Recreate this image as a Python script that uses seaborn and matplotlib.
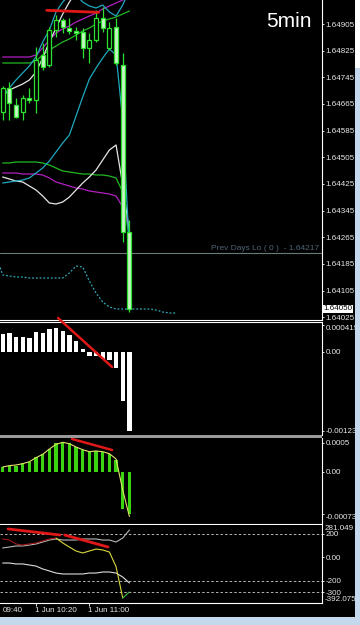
import numpy as np
import matplotlib
matplotlib.use("Agg")
import matplotlib.pyplot as plt
import matplotlib.transforms as mtransforms
from matplotlib.patches import Rectangle
import seaborn as sns

# ---------------- data ----------------
bar_idx = np.arange(20)
open_ = [1.64641, 1.64713, 1.64662, 1.64641, 1.64683, 1.64677, 1.64812, 1.64782, 1.64887, 1.64917,
         1.64893, 1.64884, 1.64881, 1.64833, 1.64857, 1.64923, 1.64833, 1.64896, 1.64782, 1.64281]
high = [1.64719, 1.64731, 1.64683, 1.64692, 1.64713, 1.64836, 1.64848, 1.64896, 1.64932, 1.64923,
        1.64923, 1.64896, 1.64893, 1.64878, 1.64947, 1.64956, 1.64911, 1.64923, 1.64818, 1.64317]
low = [1.64617, 1.64617, 1.64623, 1.64617, 1.64668, 1.64638, 1.64767, 1.64776, 1.64866, 1.64878,
       1.64875, 1.64857, 1.64803, 1.64788, 1.64851, 1.64881, 1.64827, 1.64782, 1.64251, 1.64041]
close = [1.64713, 1.64668, 1.64626, 1.64683, 1.64677, 1.64797, 1.64776, 1.64887, 1.64917, 1.64896,
         1.64884, 1.64878, 1.64833, 1.64857, 1.64923, 1.64893, 1.64893, 1.64788, 1.64281, 1.64050]

white_up = [1.64689, 1.64707, 1.64716, 1.64725, 1.64737, 1.64761, 1.64803, 1.64851, 1.64893, 1.64935,
            1.64971, 1.65001, 1.65019, 1.65025, 1.65019, 1.65007, 1.65001, 1.65007, 1.65001, 1.64992]
white_lo = [1.64446, 1.64440, 1.64434, 1.64431, 1.64419, 1.64407, 1.64389, 1.64368, 1.64365, 1.64371,
            1.64386, 1.64407, 1.64428, 1.64446, 1.64467, 1.64497, 1.64527, 1.64542, 1.64422, 1.64281]
cyan_up = [1.64686, 1.64713, 1.64737, 1.64758, 1.64779, 1.64806, 1.64851, 1.64887, 1.64941, 1.64971,
           1.64992, 1.64992, 1.64971, 1.64959, 1.64953, 1.64962, 1.64941, 1.64929, 1.64962, 1.65007]
cyan_lo = [1.64428, 1.64431, 1.64434, 1.64437, 1.64443, 1.64458, 1.64473, 1.64494, 1.64521, 1.64548,
           1.64572, 1.64629, 1.64686, 1.64740, 1.64773, 1.64803, 1.64830, 1.64812, 1.64617, 1.64227]
magenta_up = [1.64806, 1.64806, 1.64806, 1.64806, 1.64806, 1.64812, 1.64833, 1.64857, 1.64878, 1.64890,
              1.64899, 1.64911, 1.64920, 1.64929, 1.64938, 1.64950, 1.64959, 1.64968, 1.64977, 1.64986]
magenta_lo = [1.64458, 1.64458, 1.64458, 1.64455, 1.64455, 1.64455, 1.64452, 1.64443, 1.64431, 1.64425,
              1.64419, 1.64413, 1.64410, 1.64404, 1.64401, 1.64398, 1.64395, 1.64389, 1.64356, 1.64293]
green_up = [1.64788, 1.64788, 1.64788, 1.64788, 1.64788, 1.64794, 1.64812, 1.64827, 1.64839, 1.64851,
            1.64860, 1.64872, 1.64884, 1.64893, 1.64905, 1.64914, 1.64920, 1.64926, 1.64935, 1.64944]
green_lo = [1.64488, 1.64488, 1.64491, 1.64491, 1.64491, 1.64491, 1.64488, 1.64482, 1.64473, 1.64464,
            1.64461, 1.64458, 1.64455, 1.64455, 1.64452, 1.64452, 1.64449, 1.64443, 1.64401, 1.64257]

shift_idx = np.arange(-1, 27)
shifted_dash = [1.64212, 1.64152, 1.64149, 1.64146, 1.64146, 1.64143, 1.64143, 1.64143, 1.64143, 1.64143,
                1.64143, 1.64158, 1.64179, 1.64176, 1.64134, 1.64098, 1.64071, 1.64056, 1.64050, 1.64050,
                1.64050, 1.64050, 1.64050, 1.64050, 1.64047, 1.64041, 1.64038, 1.64038]

prev_days_lo = 1.64217
price_ticks = [1.64905, 1.64825, 1.64745, 1.64665, 1.64585, 1.64505, 1.64425, 1.64345, 1.64265,
               1.64185, 1.64105, 1.64025]
last_price = 1.64050

macd_hist = [0.000271, 0.000286, 0.000234, 0.000234, 0.000218, 0.000311, 0.000296, 0.000353, 0.000364,
             0.000327, 0.000260, 0.000167, 0.000042, -0.000062, -0.000062, -0.000114, -0.000129,
             -0.000249, -0.000768, -0.001235]
macd_ticks = [0.000419, 0.0, -0.00123]
macd_labels = ["0.000419", "0.00", "-0.00123"]

osma_hist = [0.000087, 0.000105, 0.000105, 0.000146, 0.000174, 0.000261, 0.000303, 0.000395, 0.000495,
             0.000512, 0.000495, 0.000435, 0.000378, 0.000338, 0.000360, 0.000338, 0.000303, 0.000204,
             -0.000650, -0.000730]
osma_signal = [0.000082, 0.000105, 0.000117, 0.000139, 0.000174, 0.000244, 0.000303, 0.000395, 0.000477,
               0.000512, 0.000488, 0.000430, 0.000383, 0.000348, 0.000361, 0.000348, 0.000314, 0.000221,
               -0.000319, -0.000780]
osma_ticks = [0.0005, 0.0, -0.00073]
osma_labels = ["0.0005", "0.00", "-0.00073"]

cci_fast = [157, 148, 114, 105, 114, 123, 140, 157, 165, 123, 88, 54, 37, 54, 71, 63, 45, -80, -349, -297]
cci_mid = [80, 88, 97, 97, 105, 114, 131, 148, 157, 148, 148, 148, 157, 157, 157, 148, 148, 131, 165, 234]
cci_slow = [-49, -49, -57, -57, -66, -75, -100, -117, -135, -143, -143, -143, -143, -135, -135, -126,
            -126, -135, -169, -220]
cci_levels = [200, -200, -300]
cci_ticks = [200, 0, -200, -300]
cci_labels = ["200", "0.00", "-200", "-300"]
cci_max_label, cci_min_label = "281.049", "-392.075"
cci_max, cci_min = 281, -392

time_tick_idx = [-3, 5, 13]
time_labels = ["09:40", "1 Jun 10:20", "1 Jun 11:00"]

trend_main = ([6.6, 14.4], [1.64946, 1.64940])
trend_macd = ([8.3, 16.4], [0.000525, -0.000238])
trend_osma = ([10.4, 16.4], [0.000570, 0.000378])
trend_cci1 = ([0.8, 8.6], [243, 191])
trend_cci2 = ([9.3, 15.8], [191, 88])

# ---------------- style ----------------
sns.set_theme(style="white")
plt.rcParams['font.family'] = ['Liberation Sans', 'DejaVu Sans']

W, H = 360, 625
fig = plt.figure(figsize=(W / 100, H / 100), dpi=100, facecolor='black')

def box(l, t, r, b):
    return [l / W, 1 - b / H, (r - l) / W, (b - t) / H]

XMIN, XMAX = -0.4, 47.8
LBL = 5.8
TXT = '#e8e8e8'
RED = '#e01818'

def style(ax, ylim, bottom=True, top=False):
    ax.set_facecolor('black')
    ax.set_xlim(XMIN, XMAX)
    ax.set_ylim(*ylim)
    ax.grid(False)
    for s in ['left', 'top', 'bottom', 'right']:
        ax.spines[s].set_color('white')
        ax.spines[s].set_linewidth(0.8)
    ax.spines['left'].set_visible(False)
    ax.spines['top'].set_visible(top)
    ax.spines['bottom'].set_visible(bottom)
    ax.yaxis.tick_right()
    ax.tick_params(axis='y', colors='white', labelcolor=TXT, labelsize=LBL, length=1.6,
                   width=0.6, pad=1.2, direction='out')
    ax.set_xticks([])
    ax.set_xlabel('')
    ax.set_ylabel('')

# ---------------- main panel ----------------
ax1 = fig.add_axes(box(0, 0, 321.5, 319.5))
px = 0.00003
style(ax1, (1.64977 - 319.5 * px, 1.64977))

line_specs = [(green_lo, '#22b822'), (green_up, '#22b822'), (magenta_lo, '#b020c0'),
              (magenta_up, '#b020c0'), (white_lo, '#e6e6e6'), (white_up, '#e6e6e6'),
              (cyan_lo, '#20a8c0'), (cyan_up, '#20a8c0')]
for vals, col in line_specs:
    sns.lineplot(x=bar_idx, y=vals, color=col, linewidth=0.9, ax=ax1, legend=False)

sns.lineplot(x=shift_idx, y=shifted_dash, color='#30a8b8', linewidth=0.9, ax=ax1,
             legend=False, linestyle=(0, (1.5, 1.5)))

ax1.axhline(prev_days_lo, color='#6a7a7a', linewidth=0.8)
ax1.text(0.993, prev_days_lo + 0.00004, "Prev Days Lo ( 0 )  - 1.64217", color='#4f6478',
         fontsize=6.0, ha='right', va='bottom', transform=ax1.get_yaxis_transform())

o = np.array(open_); c = np.array(close)
bull = c >= o
ax1.vlines(bar_idx, low, high, color='#2ee02e', linewidth=0.9, zorder=4)
ax1.bar(bar_idx[bull], (c - o)[bull], bottom=o[bull], width=0.6, facecolor='black',
        edgecolor='#2ee02e', linewidth=0.9, zorder=5)
ax1.bar(bar_idx[~bull], (o - c)[~bull], bottom=c[~bull], width=0.6, facecolor='#c8f5c8',
        edgecolor='#2ee02e', linewidth=0.9, zorder=5)

ax1.plot(*trend_main, color=RED, linewidth=2.0, zorder=6)

ax1.set_yticks(price_ticks)
ax1.set_yticklabels([f"{v:.5f}" for v in price_ticks])
ax1.text(1.006, last_price, f"{last_price:.5f}", transform=ax1.get_yaxis_transform(),
         fontsize=LBL, color='black', ha='left', va='center', clip_on=False,
         bbox=dict(boxstyle='square,pad=0.12', facecolor='white', edgecolor='none'))
ax1.text(0.828, 0.914, "5min", transform=ax1.transAxes, color='white', fontsize=15,
         ha='left', va='baseline')

# ---------------- MACD panel ----------------
ax2 = fig.add_axes(box(0, 322, 321.5, 435.5))
sc2 = 1.557e-5
ylim2 = (-(435.5 - 351.7) * sc2, (351.7 - 322) * sc2)
sns.barplot(x=bar_idx, y=macd_hist, color='white', width=0.65, native_scale=True,
            linewidth=0, saturation=1, ax=ax2)
style(ax2, ylim2, bottom=False, top=True)
ax2.plot(*trend_macd, color=RED, linewidth=1.8, zorder=6, clip_on=False)
ax2.set_yticks(macd_ticks)
ax2.set_yticklabels(macd_labels)
ax2.get_yticklabels()[0].set_va('top')

# separator
fig.patches.append(Rectangle((0, 1 - 438 / H), 321.5 / W, 2.6 / H, transform=fig.transFigure,
                             facecolor='#9a9a9a', edgecolor='none', zorder=3))

# ---------------- OsMA panel ----------------
ax3 = fig.add_axes(box(0, 438, 321.5, 523.5))
sc3 = 1.742e-5
ylim3 = (-(523.5 - 471.7) * sc3, (471.7 - 438) * sc3)
sns.barplot(x=bar_idx, y=osma_hist, color='#3cd410', width=0.5, native_scale=True,
            linewidth=0, saturation=1, ax=ax3)
style(ax3, ylim3)
sns.lineplot(x=bar_idx, y=osma_signal, color='#e2e26a', linewidth=0.8, ax=ax3, legend=False)
ax3.plot(*trend_osma, color=RED, linewidth=1.8, zorder=6)
ax3.set_yticks(osma_ticks)
ax3.set_yticklabels(osma_labels)
ax3.get_yticklabels()[2].set_va('top')

# ---------------- CCI panel ----------------
ax4 = fig.add_axes(box(0, 524.5, 321.5, 603))
sc4 = 8.57
style(ax4, (-(603 - 557.3) * sc4, (557.3 - 524.5) * sc4))
for lv in cci_levels:
    ax4.axhline(lv, color='#cfcfcf', linewidth=0.6, linestyle=(0, (3, 2.5)))
sns.lineplot(x=bar_idx, y=cci_slow, color='#dcdcdc', linewidth=0.8, ax=ax4, legend=False)
sns.lineplot(x=bar_idx, y=cci_mid, color='#b8b8b8', linewidth=0.8, ax=ax4, legend=False)
sns.lineplot(x=bar_idx[:9], y=cci_fast[:9], color='#a01818', linewidth=0.8, ax=ax4, legend=False)
sns.lineplot(x=bar_idx[8:19], y=cci_fast[8:19], color='#d8d840', linewidth=0.8, ax=ax4, legend=False)
sns.lineplot(x=bar_idx[18:], y=cci_fast[18:], color='#40c040', linewidth=0.8, ax=ax4, legend=False)
ax4.plot(*trend_cci1, color=RED, linewidth=2.0, zorder=6)
ax4.plot(*trend_cci2, color=RED, linewidth=2.0, zorder=6)
ax4.set_yticks(cci_ticks)
ax4.set_yticklabels(cci_labels)
ytf = ax4.get_yaxis_transform()
ax4.text(1.0105, cci_max, cci_max_label, transform=ytf, color=TXT, fontsize=LBL, ha='left',
         va='top', clip_on=False, zorder=1)
ax4.text(1.0105, cci_min, cci_min_label, transform=ytf, color=TXT, fontsize=LBL, ha='left',
         va='bottom', clip_on=False, zorder=1)
ax4.set_xticks(time_tick_idx[1:])
ax4.set_xticklabels([])
ax4.tick_params(axis='x', bottom=True, colors='white', length=2.2, width=0.6, direction='out')
ax4.set_xlim(XMIN, XMAX)
xfm = mtransforms.blended_transform_factory(ax4.transData, ax4.transAxes)
time_x = [0.0, 5 - 0.15, 13 - 0.15]
for t, lab in zip(time_x, time_labels):
    ax4.text(t, -0.098, lab, transform=xfm, color=TXT, fontsize=LBL, ha='left',
             va='center', clip_on=False)

# ---------------- window frame ----------------
fig.patches.append(Rectangle((355 / W, 0), 5 / W, 1, transform=fig.transFigure,
                             facecolor='#c4d8ee', edgecolor='none', zorder=10))
fig.patches.append(Rectangle((355 / W, 1 - 68 / H), 5 / W, 68 / H, transform=fig.transFigure,
                             facecolor='white', edgecolor='none', zorder=11))
fig.patches.append(Rectangle((0, 0), 1, 8 / H, transform=fig.transFigure,
                             facecolor='#c4d8ee', edgecolor='none', zorder=10))

fig.savefig("out.png", dpi=100, facecolor='black')
